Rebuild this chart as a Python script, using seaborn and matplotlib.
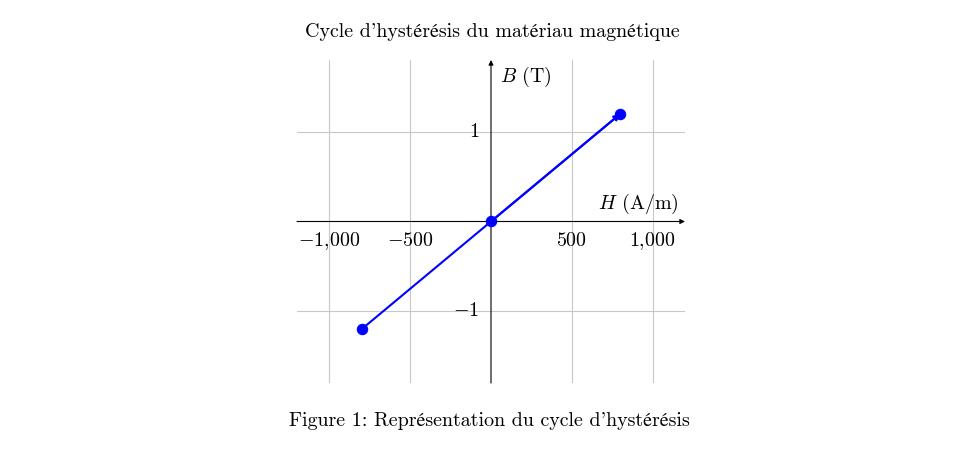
import matplotlib
matplotlib.use("Agg")
import matplotlib.pyplot as plt
import matplotlib.transforms as mtransforms
import seaborn as sns
import pandas as pd

H = [-800, 0, 800]
B = [-1.2, 0.0, 1.2]
xticks = [-1000, -500, 500, 1000]
xticklabels = [r"$-1{,}000$", r"$-500$", r"$500$", r"$1{,}000$"]
yticks = [-1, 1]
yticklabels = [r"$-1$", r"$1$"]
title = "Cycle d'hystérésis du matériau magnétique"
caption = "Figure 1: Représentation du cycle d'hystérésis"

sns.set_style("white")
plt.rcParams["mathtext.fontset"] = "cm"
plt.rcParams["font.family"] = ["cmr10", "STIXGeneral", "DejaVu Serif"]
plt.rcParams["axes.formatter.use_mathtext"] = True
plt.rcParams["text.color"] = "black"

fig = plt.figure(figsize=(9.79, 4.65), dpi=100)
ax = fig.add_axes([297/979, 1-383/465, 388/979, 323/465])

df = pd.DataFrame({"H": H, "B": B})
ax.set_xlim(-1200, 1200)
ax.set_ylim(-1.8, 1.8)

for xv in xticks:
    ax.axvline(xv, color="#c8c8c8", lw=0.8, zorder=0)
for yv in yticks:
    ax.axhline(yv, color="#c8c8c8", lw=0.8, zorder=0)

for s in ax.spines.values():
    s.set_visible(False)
ax.set_xticks([])
ax.set_yticks([])

# axes with arrows
ax.annotate("", xy=(1, 0), xycoords=("axes fraction", "data"), xytext=(0, 0),
            textcoords=("axes fraction", "data"),
            arrowprops=dict(arrowstyle="-|>", color="black", lw=0.8, mutation_scale=7,
                            shrinkA=0, shrinkB=0), zorder=2)
ax.annotate("", xy=(0, 1), xycoords=("data", "axes fraction"), xytext=(0, 0),
            textcoords=("data", "axes fraction"),
            arrowprops=dict(arrowstyle="-|>", color="black", lw=0.8, mutation_scale=7,
                            shrinkA=0, shrinkB=0), zorder=2)

sns.lineplot(data=df, x="H", y="B", ax=ax, color="#0000ff", lw=1.5,
             marker="o", markersize=7.5, markeredgecolor="#0000ff", zorder=3)
ax.annotate("", xy=(H[-1], B[-1]), xytext=(H[-2], B[-2]),
            arrowprops=dict(arrowstyle="-|>", color="#0000ff", lw=1.5, mutation_scale=9,
                            shrinkA=0, shrinkB=0), zorder=3)
ax.set_xlabel("")
ax.set_ylabel("")

fs = 14.4
for xv, lab in zip(xticks, xticklabels):
    ax.text(xv, 0, lab, ha="center", va="baseline", fontsize=fs, color="black",
            transform=ax.transData + mtransforms.ScaledTranslation(0, -17.5/72, fig.dpi_scale_trans))
for yv, lab in zip(yticks, yticklabels):
    ax.text(0, yv, lab, ha="right", va="center", fontsize=fs, color="black",
            transform=ax.transData + mtransforms.ScaledTranslation(-8.5/72, 0, fig.dpi_scale_trans))

ax.text(55, 1.61, r"$B$ (T)", ha="left", va="center", fontsize=fs, color="black")
ax.text(1160, 0.2, r"$H$ (A/m)", ha="right", va="center", fontsize=fs, color="black")

fig.text(492/979, 1-32/465, title, ha="center", va="center", fontsize=fs, color="black")
fig.text(489/979, 1-421/465, caption, ha="center", va="center", fontsize=fs, color="black")

fig.savefig("out.png", dpi=100)
